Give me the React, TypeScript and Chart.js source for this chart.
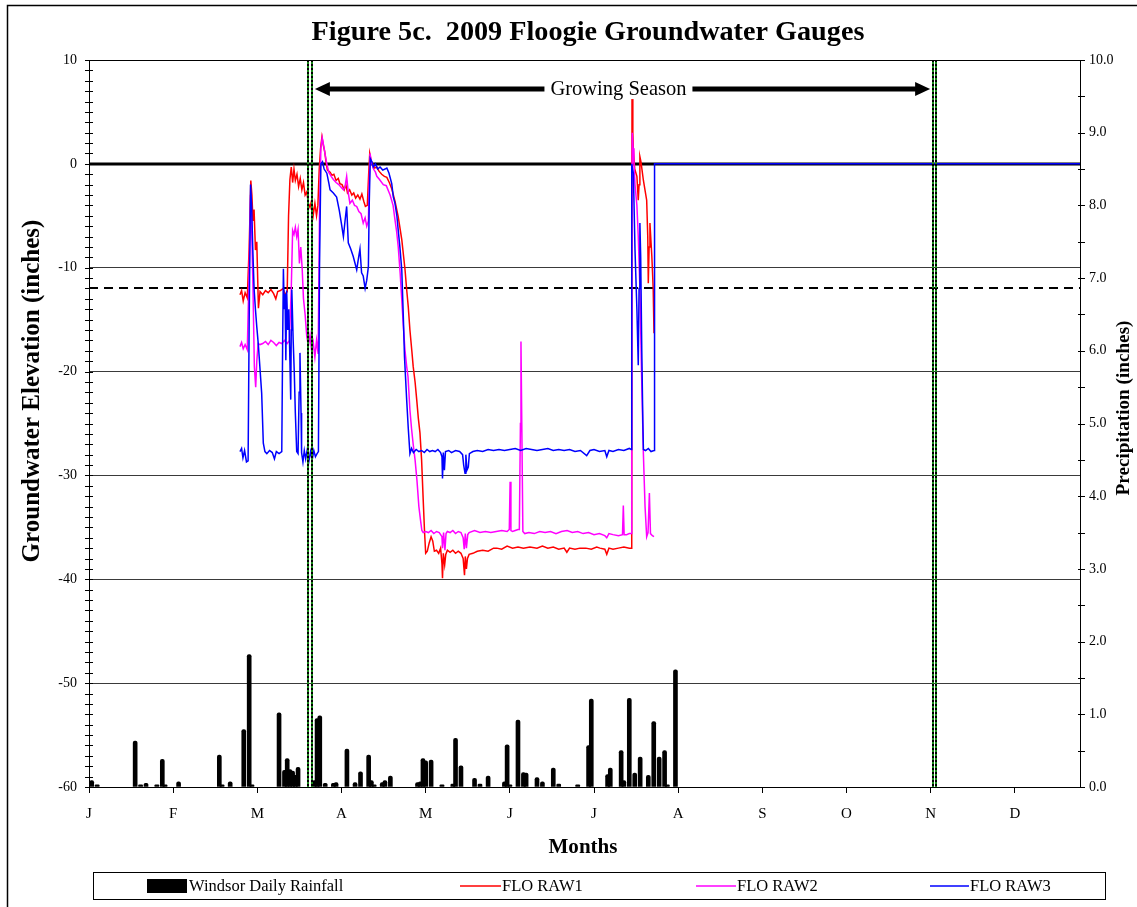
import React, { useEffect, useRef } from "react";
import { Chart, registerables } from "chart.js";

Chart.register(...registerables);

// ---------- data ----------
const monthLabels = ["J", "F", "M", "A", "M", "J", "J", "A", "S", "O", "N", "D"];
const monthTickDays = [0, 31, 62, 93, 124, 155, 186, 217, 248, 279, 310, 341];
const leftTicks = [-60, -50, -40, -30, -20, -10, 0, 10];

const rainDays = [1, 3, 17, 19, 21, 25, 27, 28, 33, 48, 49, 52, 57, 59, 60, 70, 72, 73, 74, 75, 76, 77, 83, 84, 85, 87, 90, 91, 95, 98, 100, 103, 104, 105, 108, 109, 111, 121, 122, 123, 124, 126, 130, 134, 135, 137, 142, 144, 147, 153, 154, 155, 158, 160, 161, 165, 167, 171, 173, 180, 184, 185, 191, 192, 196, 197, 199, 201, 203, 206, 208, 210, 212, 213, 216];
const rainInches = [0.09, 0.03, 0.63, 0.03, 0.05, 0.03, 0.38, 0.03, 0.07, 0.44, 0.03, 0.07, 0.79, 1.82, 0.03, 1.02, 0.23, 0.39, 0.24, 0.22, 0.16, 0.27, 0.09, 0.94, 0.98, 0.05, 0.05, 0.06, 0.52, 0.06, 0.21, 0.44, 0.09, 0.03, 0.06, 0.09, 0.15, 0.06, 0.07, 0.39, 0.36, 0.37, 0.03, 0.04, 0.67, 0.29, 0.12, 0.04, 0.15, 0.07, 0.58, 0.03, 0.92, 0.2, 0.19, 0.13, 0.07, 0.26, 0.04, 0.03, 0.57, 1.21, 0.17, 0.26, 0.5, 0.09, 1.22, 0.19, 0.41, 0.16, 0.9, 0.41, 0.5, 0.03, 1.61];

// [day of year, groundwater elevation (in)]
const raw1 = [
  [55.6, -12.6], [56.2, -12.2], [56.8, -13.2], [57.5, -12.4], [58.3, -12.9], [59.0, -8], [59.6, -1.6], [60.0, -3], [60.4, -5.5], [60.8, -4.4], [61.3, -8.3], [61.8, -7.5], [62.4, -13.9], [63.0, -12.3], [64, -12.6], [65, -12.2], [66, -12.4], [67, -12.1], [68, -12.5], [68.8, -13.0], [69.5, -12.3], [70.5, -12.2], [71.5, -12.0], [72.3, -12.6], [73.0, -12.3], [73.5, -5], [74.0, -1.5], [74.5, -0.3], [75.0, -1.8], [75.5, -0.5], [76.0, -1.6], [76.6, -1.0], [77.2, -2.2], [77.8, -1.4], [78.4, -2.5], [79.0, -1.8], [79.6, -3.0], [80.2, -2.7], [80.8, -3.8], [81.4, -4.2], [82.0, -3.5], [82.6, -4.9], [83.2, -3.8], [83.8, -5.0], [84.3, -4.0], [84.8, -0.5], [85.3, 1.5], [85.8, 2.6], [86.3, 1.8], [86.8, 1.2], [87.3, 0.2], [87.8, -0.6], [88.8, -0.8], [89.5, -1.1], [90.2, -1.0], [91.0, -1.6], [91.8, -1.4], [92.4, -1.9], [93.2, -2.0], [94.0, -2.5], [94.6, -2.0], [95.2, -2.8], [96.0, -2.5], [96.8, -3.0], [97.5, -2.8], [98.2, -3.3], [99.0, -3.0], [99.8, -3.4], [100.5, -2.9], [101.2, -3.6], [101.8, -4.1], [102.5, -4.0], [103.0, -1.0], [103.4, 1.0], [103.9, 0.3], [104.5, 0.0], [105.2, -0.4], [106.0, -0.3], [106.8, -0.7], [107.8, -1.0], [108.8, -1.2], [109.7, -1.3], [110.6, -1.8], [111.5, -2.4], [112.7, -3.6], [113.9, -5.1], [115.2, -7.3], [116.4, -10.2], [117.0, -12.1], [117.6, -13.8], [118.2, -16.0], [118.9, -18.0], [119.4, -19.5], [120.1, -21.0], [120.7, -22.7], [121.3, -24.5], [121.9, -25.9], [122.5, -28.5], [123.1, -32.4], [123.6, -35.5], [124.0, -37.5],
  [124.6, -37.3], [125.3, -36.5], [126.0, -35.9], [126.6, -36.3], [127.2, -37.3], [128.0, -37.2], [128.8, -37.5], [129.5, -37.0], [130.0, -38.5], [130.2, -39.9], [130.5, -37.5], [131.0, -38.6], [131.4, -37.6], [132.0, -37.2], [133, -37.4], [134, -37.2], [135, -37.5], [136, -37.3], [137, -37.5], [137.8, -38.0], [138.3, -39.6], [138.6, -37.8], [139.0, -39.0], [139.4, -38.0], [140, -37.6], [141.4, -37.5], [143, -37.3], [145, -37.2], [147, -37.3], [149, -37.0], [150.2, -37.0], [152, -37.1], [154, -36.8], [156, -37.0], [158, -36.9], [160, -37.0], [162.4, -36.9], [165, -37.0], [167, -36.8], [169, -37.0], [171, -36.9], [173, -37.1], [175, -37.0], [176, -37.4], [177, -37.0], [179, -37.1], [180.8, -37.0], [183, -37.0], [185, -37.1], [187, -36.9], [188.2, -37.0], [190, -37.1], [190.7, -37.6], [191.5, -37.0], [193, -37.1], [195, -37.0], [197, -36.9], [199, -37.0], [199.7, -37.0], [199.9, -20], [200.0, 6.8], [200.3, 3], [200.5, 1.3], [201.0, -0.5], [201.8, -1.2], [202.3, -3.5], [202.6, -2], [202.9, 0.7], [203.3, 0.2], [204.2, -1.6], [205.4, -3.5], [205.8, -7], [206.0, -11.5], [206.3, -8], [206.6, -5.7], [207.3, -8.9], [207.8, -12], [208.1, -16.3]
];

const raw2 = [
  [55.6, -17.6], [56.2, -17.2], [56.8, -17.8], [57.5, -17.4], [58.3, -17.9], [59.0, -10], [59.5, -3], [59.9, -6], [60.4, -12], [60.9, -19.5], [61.4, -21.5], [61.8, -19], [62.3, -17.3], [63, -17.4], [64, -17.3], [65, -17.1], [66, -17.4], [67, -17.0], [68, -17.2], [69, -17.5], [70, -17.2], [71, -17.3], [72, -17.0], [73, -17.3], [73.8, -17.0], [74.5, -12], [75.0, -6.4], [75.5, -6.8], [76.0, -6.1], [76.5, -7.0], [77.0, -6.3], [77.5, -9.6], [78.0, -8], [78.5, -10], [79.0, -13], [79.6, -14.5], [80.2, -16.6], [80.8, -17.5], [81.4, -16.5], [82.0, -18.0], [82.6, -17.2], [83.2, -18.6], [83.8, -17.0], [84.4, -18.3], [84.9, -5], [85.4, 1.5], [85.9, 2.5], [86.4, 1.8], [86.9, 1.0], [87.6, 0.0], [88.3, -0.8], [89.2, -1.2], [90.0, -1.5], [91.0, -1.8], [92.0, -2.0], [93.0, -2.3], [93.7, -2.5], [94.3, -2.2], [94.9, -1.2], [95.5, -2.8], [96.1, -3.8], [97.0, -3.5], [97.8, -4.0], [98.6, -4.1], [99.4, -4.6], [100.2, -4.8], [101.0, -5.7], [101.7, -5.2], [102.3, -6.0], [102.9, -5.5], [103.2, -2], [103.5, 1.0], [104.0, 0.2], [104.8, -0.5], [105.5, -0.8], [106.0, -1.2], [107.0, -1.5], [108.4, -2.0], [109.5, -2.1], [110.9, -3.0], [112.0, -4.0], [112.7, -5.4], [113.3, -6.5], [113.9, -8.0], [114.6, -10.5], [115.2, -13.1], [115.8, -15.7], [116.4, -18.0], [117.0, -19.5], [117.5, -20.5], [118.2, -23.7], [118.8, -25.5], [119.4, -27.0], [120.1, -28.5], [120.8, -30.5], [121.5, -33.0], [122.1, -34.3], [122.6, -35.3], [123.1, -35.5],
  [124, -35.4], [125, -35.5], [126, -35.3], [127, -35.6], [128, -35.4], [129, -35.5], [130.0, -35.9], [130.2, -37.0], [130.6, -35.5], [131.1, -37.2], [131.5, -35.6], [132, -35.4], [133, -35.5], [134, -35.3], [135, -35.6], [136, -35.4], [137, -35.5], [137.8, -36.0], [138.2, -37.1], [138.6, -35.6], [139.0, -37.0], [139.5, -35.7], [140, -35.5], [142, -35.3], [144, -35.5], [146, -35.4], [148, -35.5], [150, -35.4], [152, -35.3], [154, -35.4], [154.8, -35.2], [155.1, -30.6], [155.4, -35.3], [156, -35.4], [157, -35.3], [158, -35.2], [158.5, -35.2], [158.9, -25], [159.1, -17.1], [159.4, -25], [159.8, -35.4], [160.5, -35.6], [162, -35.5], [164, -35.6], [166, -35.4], [168, -35.5], [170, -35.4], [172, -35.6], [174, -35.4], [176.1, -35.3], [178, -35.5], [180, -35.4], [182, -35.6], [184, -35.5], [186, -35.7], [188, -35.6], [190, -35.8], [190.7, -36.0], [191.5, -35.6], [193, -35.7], [195, -35.8], [196.5, -35.7], [196.8, -32.9], [197.1, -35.7], [198, -35.7], [199, -35.6], [199.7, -35.6], [199.9, -10], [200.1, 3.0], [200.4, 1.5], [200.7, 0.2], [201.1, -2], [201.8, -4], [202.3, -7], [202.9, -12], [203.5, -20], [204.2, -28], [204.8, -33], [205.4, -35.9], [205.9, -35.5], [206.4, -31.7], [206.8, -35.6], [207.5, -35.8], [208.1, -35.9]
];

const raw3 = [
  [55.6, -27.7], [56.2, -27.4], [56.7, -28.3], [57.3, -27.6], [58.0, -28.7], [58.6, -28.6], [59.0, -15], [59.5, -2.0], [59.9, -4], [60.3, -8], [60.8, -12], [61.3, -14], [61.8, -15.7], [62.4, -17.5], [63.0, -19.8], [63.6, -22.1], [64.2, -26.9], [64.8, -27.7], [65.5, -27.9], [66.5, -27.6], [67.5, -27.8], [68.3, -28.4], [69.0, -27.7], [70.0, -27.9], [71.0, -27.7], [71.3, -18], [71.6, -10.1], [71.9, -14], [72.2, -12.5], [72.5, -18.9], [72.8, -12.2], [73.2, -16], [73.6, -14], [74.0, -19], [74.3, -22.7], [74.5, -16], [74.7, -12.1], [75.2, -17], [75.6, -20], [76.0, -24], [76.5, -27.7], [77.0, -27.9], [77.4, -22], [77.7, -18.2], [78.1, -24], [78.3, -27.8], [78.8, -28.7], [79.3, -27.6], [79.8, -28.4], [80.4, -27.5], [81.0, -28.6], [81.6, -27.7], [82.2, -28.5], [82.8, -27.6], [83.4, -28.2], [84.0, -27.9], [84.5, -27.7], [84.9, -10], [85.4, 0.0], [86.0, 0.2], [86.6, -0.5], [87.6, -0.9], [88.3, -1.8], [88.8, -2.5], [90.0, -2.8], [91.2, -3.2], [92.2, -4.5], [93.0, -5.8], [93.7, -7.0], [94.3, -5.5], [94.9, -4.1], [95.5, -7.6], [96.4, -8.2], [97.3, -8.9], [98.0, -9.6], [98.6, -10.2], [99.3, -9.0], [99.8, -8.2], [100.4, -10.5], [101.0, -10.8], [101.7, -12.0], [102.3, -11.2], [102.9, -9.9], [103.2, -4], [103.6, 0.5], [104.2, 0.2], [104.7, -0.3], [105.5, 0.0], [106.3, -0.5], [107.2, -0.3], [108.2, -0.6], [109.0, -0.5], [109.7, -0.4], [110.5, -0.9], [111.5, -1.9], [112.1, -3.2], [112.7, -3.8], [113.4, -5.0], [113.9, -6.4], [114.5, -8.0], [115.2, -10.2], [115.8, -15.0], [116.2, -18.6], [117.0, -22.7], [117.6, -25.5], [118.2, -27.9], [118.8, -27.4], [119.5, -27.8], [120.5, -27.5], [121.5, -27.7], [122.5, -27.6], [123.5, -27.8], [124.5, -27.5], [125.5, -27.7], [126.5, -27.6], [127.5, -27.7], [128.5, -27.5], [129.5, -27.8],
  [130.0, -28.2], [130.2, -30.3], [130.5, -27.8], [130.9, -29.5], [131.3, -27.7], [132.5, -27.6], [133.5, -27.8], [135, -27.6], [136.5, -27.7], [137.6, -28.0], [138.0, -29.0], [138.5, -29.8], [138.8, -28.0], [139.2, -29.5], [139.7, -29.2], [140.1, -27.9], [141.4, -27.7], [143, -27.6], [145, -27.7], [147, -27.5], [149, -27.6], [151, -27.5], [153, -27.6], [155, -27.5], [157, -27.4], [159, -27.6], [161, -27.4], [163, -27.5], [165, -27.6], [167, -27.5], [169, -27.4], [171, -27.6], [173, -27.5], [175, -27.6], [177, -27.5], [179, -27.7], [181, -27.6], [183.3, -28.1], [184.5, -27.6], [186, -27.5], [188, -27.7], [190, -27.6], [190.7, -28.2], [191.5, -27.6], [193, -27.7], [195, -27.5], [197, -27.6], [199, -27.4], [199.7, -27.5], [199.9, 0.0], [200.5, -0.9], [201.1, -8.3], [201.8, -14], [202.3, -19.4], [202.6, -12], [202.9, -5.7], [203.2, -9], [203.6, -18], [204.0, -25], [204.2, -27.5], [205, -27.6], [206, -27.4], [207, -27.7], [208.1, -27.6], [208.3, 0.0], [365, 0.0]
];

const growingSeasonMarkerDays = [80.6, 82.1, 310.7, 312.0];
const growingSeasonArrowDays = [83.2, 309.8];
const growingSeasonArrowLevel = 7.2;
const growingSeasonLabelDay = 195;
const groundSurfaceLevel = 0;
const wetlandThresholdLevel = -12;

const titleText = "Figure 5c.  2009 Floogie Groundwater Gauges";
const serif = '"Liberation Serif", "Times New Roman", serif';

function fitFont(ctx: CanvasRenderingContext2D, text: string, target: number, weight: string) {
  ctx.font = `${weight} 100px ${serif}`;
  const w = ctx.measureText(text).width;
  const size = (100 * target) / w;
  return `${weight} ${size.toFixed(2)}px ${serif}`;
}

function hline(ctx: CanvasRenderingContext2D, x1: number, x2: number, y: number) {
  ctx.beginPath();
  ctx.moveTo(x1, y);
  ctx.lineTo(x2, y);
  ctx.stroke();
}

const decorPlugin = {
  id: "decor",
  beforeDraw(chart: any) {
    const ctx = chart.ctx as CanvasRenderingContext2D;
    ctx.save();
    ctx.fillStyle = "#fff";
    ctx.fillRect(0, 0, chart.width, chart.height);
    ctx.strokeStyle = "#000";
    ctx.lineWidth = 1.5;
    ctx.beginPath();
    ctx.moveTo(7.5, chart.height);
    ctx.lineTo(7.5, 5.5);
    ctx.lineTo(chart.width, 5.5);
    ctx.stroke();
    ctx.restore();
  },
  beforeDatasetsDraw(chart: any) {
    const ctx = chart.ctx as CanvasRenderingContext2D;
    const a = chart.chartArea;
    const y = chart.scales.y;
    ctx.save();
    ctx.strokeStyle = "#000";
    ctx.lineWidth = 3;
    hline(ctx, a.left, a.right, Math.round(y.getPixelForValue(groundSurfaceLevel)));
    ctx.lineWidth = 2;
    ctx.setLineDash([9, 6]);
    hline(ctx, a.left, a.right, Math.round(y.getPixelForValue(wetlandThresholdLevel)));
    ctx.restore();
  },
  afterDatasetsDraw(chart: any) {
    const ctx = chart.ctx as CanvasRenderingContext2D;
    const a = chart.chartArea;
    const x = chart.scales.x;
    const y = chart.scales.y;
    const y2 = chart.scales.y2;
    ctx.save();
    // growing season marker lines
    growingSeasonMarkerDays.forEach((d) => {
      const px = Math.round(x.getPixelForValue(d));
      ctx.setLineDash([]);
      ctx.strokeStyle = "#1a8a1a";
      ctx.lineWidth = 2;
      ctx.beginPath();
      ctx.moveTo(px, a.top);
      ctx.lineTo(px, a.bottom);
      ctx.stroke();
      ctx.setLineDash([2, 2]);
      ctx.strokeStyle = "#000";
      ctx.lineWidth = 2;
      ctx.beginPath();
      ctx.moveTo(px, a.top);
      ctx.lineTo(px, a.bottom);
      ctx.stroke();
    });
    ctx.setLineDash([]);
    // arrow
    const ay = y.getPixelForValue(growingSeasonArrowLevel);
    const ax1 = x.getPixelForValue(growingSeasonArrowDays[0]);
    const ax2 = x.getPixelForValue(growingSeasonArrowDays[1]);
    const head = 15;
    const hh = 7;
    ctx.strokeStyle = "#000";
    ctx.fillStyle = "#000";
    ctx.lineWidth = 5;
    hline(ctx, ax1 + head - 1, ax2 - head + 1, ay);
    ctx.beginPath();
    ctx.moveTo(ax1, ay);
    ctx.lineTo(ax1 + head, ay - hh);
    ctx.lineTo(ax1 + head, ay + hh);
    ctx.closePath();
    ctx.fill();
    ctx.beginPath();
    ctx.moveTo(ax2, ay);
    ctx.lineTo(ax2 - head, ay - hh);
    ctx.lineTo(ax2 - head, ay + hh);
    ctx.closePath();
    ctx.fill();
    // label
    const lx = x.getPixelForValue(growingSeasonLabelDay);
    const label = "Growing Season";
    ctx.font = fitFont(ctx, label, 136, "normal");
    const lw = ctx.measureText(label).width;
    ctx.fillStyle = "#fff";
    ctx.fillRect(lx - lw / 2 - 6, ay - 10, lw + 12, 20);
    ctx.fillStyle = "#000";
    ctx.textAlign = "center";
    ctx.textBaseline = "middle";
    ctx.fillText(label, lx, ay + 1);
    // custom axis tick marks
    ctx.strokeStyle = "#000";
    ctx.lineWidth = 1;
    for (let v = -60; v <= 10; v += 1) {
      const py = Math.round(y.getPixelForValue(v)) + 0.5;
      hline(ctx, a.left - 4, a.left + 4, py);
    }
    for (let v = 0; v <= 10; v += 0.5) {
      const py = Math.round(y2.getPixelForValue(v)) + 0.5;
      hline(ctx, a.right - 2, a.right + 5, py);
    }
    ctx.restore();
  },
  afterDraw(chart: any) {
    const ctx = chart.ctx as CanvasRenderingContext2D;
    ctx.save();
    ctx.fillStyle = "#000";
    ctx.textAlign = "center";
    ctx.textBaseline = "middle";
    // title
    ctx.font = fitFont(ctx, titleText, 553, "bold");
    ctx.fillText(titleText, 588, 33);
    // x title
    ctx.font = fitFont(ctx, "Months", 69, "bold");
    ctx.fillText("Months", 583, 848);
    // left y title
    ctx.save();
    ctx.translate(33, 391);
    ctx.rotate(-Math.PI / 2);
    ctx.font = fitFont(ctx, "Groundwater Elevation (inches)", 343, "bold");
    ctx.fillText("Groundwater Elevation (inches)", 0, 0);
    ctx.restore();
    // right y title
    ctx.save();
    ctx.translate(1124, 408);
    ctx.rotate(-Math.PI / 2);
    ctx.font = fitFont(ctx, "Precipitation (inches)", 175, "bold");
    ctx.fillText("Precipitation (inches)", 0, 0);
    ctx.restore();
    // legend box
    ctx.strokeStyle = "#000";
    ctx.lineWidth = 1;
    ctx.strokeRect(93.5, 872.5, 1012, 27);
    const ly = 886;
    ctx.textAlign = "left";
    ctx.font = `16.5px ${serif}`;
    const items = chart.data.datasets.map((ds: any) => ds);
    const positions = [
      { x1: 147, x2: 187, tx: 189 },
      { x1: 460, x2: 501, tx: 502 },
      { x1: 696, x2: 736, tx: 737 },
      { x1: 930, x2: 969, tx: 970 },
    ];
    items.forEach((ds: any, i: number) => {
      const p = positions[i];
      if (ds.type === "bar") {
        ctx.fillStyle = "#000";
        ctx.fillRect(p.x1, ly - 7, p.x2 - p.x1, 14);
      } else {
        ctx.strokeStyle = ds.borderColor;
        ctx.lineWidth = 1.5;
        hline(ctx, p.x1, p.x2, ly);
      }
      ctx.fillStyle = "#000";
      ctx.fillText(ds.label, p.tx, ly + 1);
    });
    ctx.restore();
  },
};

export default function App() {
  const ref = useRef<HTMLCanvasElement | null>(null);
  useEffect(() => {
    if (!ref.current) return;
    const tickFont = { family: serif, size: 14 };
    const chart = new Chart(ref.current, {
      type: "bar",
      data: {
        datasets: [
          {
            type: "bar",
            label: "Windsor Daily Rainfall",
            data: rainDays.map((d, i) => ({ x: d, y: rainInches[i] })),
            backgroundColor: "#000",
            borderWidth: 0,
            barThickness: 4,
            borderRadius: { topLeft: 2, topRight: 2, bottomLeft: 0, bottomRight: 0 },
            xAxisID: "x",
            yAxisID: "y2",
            order: 4,
          } as any,
          {
            type: "line",
            label: "FLO RAW1",
            data: raw1.map(([d, v]) => ({ x: d, y: v })),
            borderColor: "#ff0000",
            borderWidth: 1.5,
            pointRadius: 0,
            tension: 0,
            xAxisID: "x",
            yAxisID: "y",
            order: 3,
          },
          {
            type: "line",
            label: "FLO RAW2",
            data: raw2.map(([d, v]) => ({ x: d, y: v })),
            borderColor: "#ff00ff",
            borderWidth: 1.5,
            pointRadius: 0,
            tension: 0,
            xAxisID: "x",
            yAxisID: "y",
            order: 2,
          },
          {
            type: "line",
            label: "FLO RAW3",
            data: raw3.map(([d, v]) => ({ x: d, y: v })),
            borderColor: "#0000ff",
            borderWidth: 1.5,
            pointRadius: 0,
            tension: 0,
            xAxisID: "x",
            yAxisID: "y",
            order: 1,
          },
        ],
      },
      options: {
        responsive: false,
        animation: false,
        devicePixelRatio: 1,
        layout: { padding: { top: 60, left: 0, right: 0, bottom: 0 } },
        plugins: {
          legend: { display: false },
          title: { display: false },
          tooltip: { enabled: false },
        },
        scales: {
          x: {
            type: "linear",
            min: 0,
            max: 365,
            offset: false,
            position: "bottom",
            afterBuildTicks: (s: any) => {
              s.ticks = monthTickDays.map((v) => ({ value: v }));
            },
            afterFit: (s: any) => {
              s.height = 120;
            },
            ticks: {
              autoSkip: false,
              maxRotation: 0,
              padding: 12,
              color: "#000",
              font: { family: serif, size: 15 },
              callback: (v: any) => {
                const i = monthTickDays.indexOf(Number(v));
                return i >= 0 ? monthLabels[i] : "";
              },
            },
            grid: {
              display: true,
              drawOnChartArea: false,
              drawTicks: true,
              tickLength: 6,
              color: "#000",
              offset: false,
            },
            border: { display: true, color: "#000", width: 1 },
          },
          y: {
            type: "linear",
            position: "left",
            min: -60,
            max: 10,
            afterBuildTicks: (s: any) => {
              s.ticks = leftTicks.map((v) => ({ value: v }));
            },
            afterFit: (s: any) => {
              s.width = 89;
            },
            ticks: {
              padding: 12,
              color: "#000",
              font: tickFont,
            },
            grid: {
              drawTicks: false,
              color: (c: any) => (c.tick && (c.tick.value === 10 || c.tick.value === -60) ? "#000" : "#3a3a3a"),
              lineWidth: 1,
            },
            border: { display: true, color: "#000", width: 1 },
          },
          y2: {
            type: "linear",
            position: "right",
            min: 0,
            max: 10,
            afterFit: (s: any) => {
              s.width = 57;
            },
            ticks: {
              stepSize: 1,
              padding: 9,
              color: "#000",
              font: tickFont,
              callback: (v: any) => Number(v).toFixed(1),
            },
            grid: { drawOnChartArea: false, drawTicks: false },
            border: { display: true, color: "#000", width: 1 },
          },
        },
      },
      plugins: [decorPlugin],
    } as any);
    return () => chart.destroy();
  }, []);

  return (
    <div style={{ position: "absolute", left: 0, top: 0, width: 1137, height: 907, background: "#fff" }}>
      <canvas ref={ref} width={1137} height={907} style={{ display: "block" }} />
    </div>
  );
}
